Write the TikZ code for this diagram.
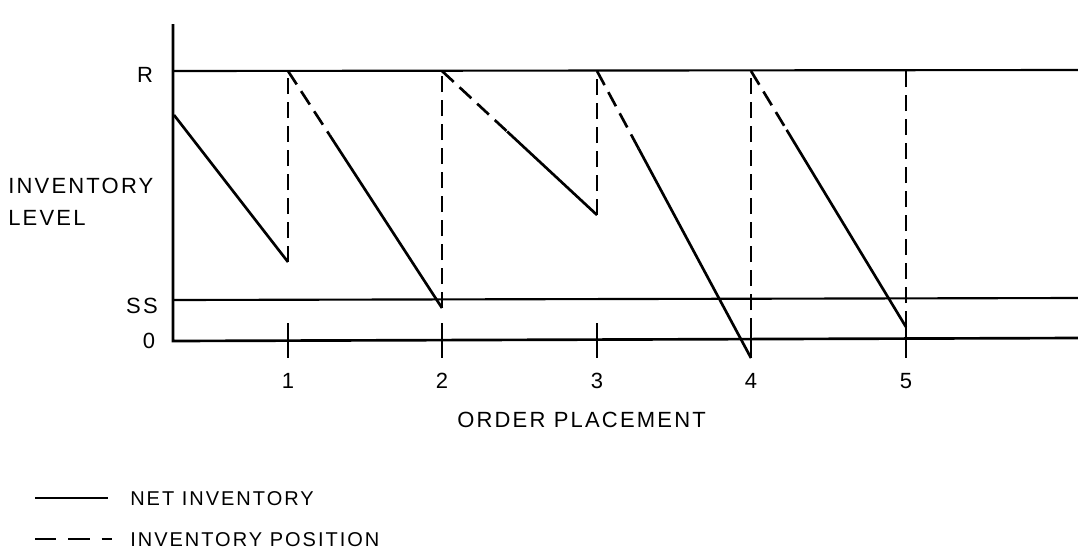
\documentclass[tikz,border=0pt]{standalone}
\usepackage{fontspec}
\usetikzlibrary{calc}
\setmainfont{Liberation Sans}[LetterSpace=10]
\begin{document}
\begin{tikzpicture}[x=0.75pt,y=-0.75pt,
  ln/.style={line width=2pt,line cap=butt},
  thin/.style={line width=1.6pt},
  dsh/.style={ln,dash pattern=on 12pt off 6pt},
  lbl/.style={inner sep=0pt,font=\fontsize{16.5}{19}\selectfont},
  leg/.style={inner sep=0pt,font=\fontsize{15}{18}\selectfont}]
\useasboundingbox (0,0) rectangle (1078,554);
% axis and reference lines
\coordinate (ytop) at (173,24);
\coordinate (o) at (173,341);
\coordinate (rl) at (173,71);
\coordinate (rr) at (1078,70);
\coordinate (sl) at (173,300);
\coordinate (sr) at (1078,298);
\coordinate (or) at (1078,338);
\draw[ln] (ytop) -- (o) -- (or);
\draw[thin] (rl) -- (rr);
\draw[thin] (sl) -- (sr);
% ticks
\foreach \x/\n in {288/1,442/2,597/3,751/4,906/5}{
  \coordinate (t\n a) at (\x,323);
  \coordinate (t\n b) at (\x,358);
  \draw[ln] (t\n a) -- (t\n b);
  \node[lbl,anchor=base] (n\n) at (\x,388) {\n};
}
% net inventory points
\coordinate (s0) at (174,115);
\coordinate (b1) at (288,262);
\coordinate (b2) at (442,308);
\coordinate (b3) at (597,215);
\coordinate (b4) at (751,358);
\coordinate (b5) at (906,327);
\foreach \x/\n in {288/1,442/2,597/3,751/4,906/5}{
  \coordinate (r\n) at (\x,71);
}
\draw[ln] (s0) -- (b1);
% verticals (inventory position)
\draw[dsh] (b1) -- (r1);
\draw[dsh] (b2) -- (r2);
\draw[dsh] (b3) -- (r3);
\draw[dsh] (b4) -- (r4);
\draw[dsh] (b5) -- (r5);
% sloped segments: dashed start, solid rest
\draw[dsh] (r1) -- ($(r1)!0.27!(b2)$) coordinate (m1);
\draw[ln] (m1) -- (b2);
\draw[dsh] (r2) -- ($(r2)!0.42!(b3)$) coordinate (m2);
\draw[ln] (m2) -- (b3);
\draw[dsh] (r3) -- ($(r3)!0.27!(b4)$) coordinate (m3);
\draw[ln] (m3) -- (b4);
\draw[dsh] (r4) -- ($(r4)!0.23!(b5)$) coordinate (m4);
\draw[ln] (m4) -- (b5);
% labels
\node[lbl,anchor=base] (lR) at (145,82) {R};
\node[lbl,anchor=base] (lSS) at (142,313) {SS};
\node[lbl,anchor=base] (l0) at (149,348) {0};
\node[lbl,anchor=base west] (yl1) at (8,193) {INVENTORY};
\node[lbl,anchor=base west] (yl2) at (8,225) {LEVEL};
\node[lbl,anchor=base west] (xl) at (457,427) {ORDER PLACEMENT};
% legend
\coordinate (la) at (35,498); \coordinate (lb) at (108,498);
\coordinate (lc) at (35,539); \coordinate (ld) at (112,539);
\draw[ln] (la) -- (lb);
\draw[ln,dash pattern=on 16pt off 9pt] (lc) -- (ld);
\node[leg,anchor=base west] (leg1) at (130,505) {NET INVENTORY};
\node[leg,anchor=base west] (leg2) at (130,546) {INVENTORY POSITION};
\end{tikzpicture}
\end{document}
